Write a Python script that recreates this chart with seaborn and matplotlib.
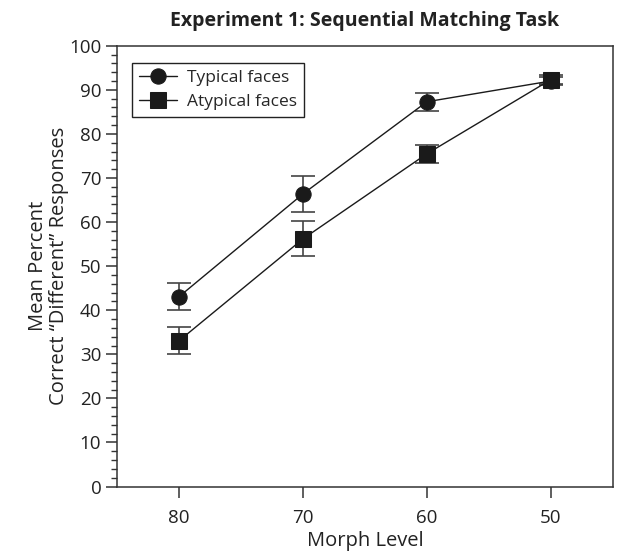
import pandas as pd
import seaborn as sns
import matplotlib.pyplot as plt
from matplotlib.ticker import MultipleLocator

morph_levels = ["80", "70", "60", "50"]
typical = [43.1, 66.4, 87.3, 92.0]
typical_err = [3.0, 4.0, 2.0, 1.0]
atypical = [33.1, 56.2, 75.5, 92.3]
atypical_err = [3.0, 4.0, 2.0, 1.0]
conditions = ["Typical faces", "Atypical faces"]

df = pd.DataFrame({
    "Morph": morph_levels * 2,
    "Pct": typical + atypical,
    "Condition": [conditions[0]] * 4 + [conditions[1]] * 4,
})

sns.set_style("ticks")
plt.rcParams["font.family"] = ["Open Sans", "DejaVu Sans"]

fig = plt.figure(figsize=(6.17, 5.58), dpi=100)
ax = fig.add_axes([0.190, 0.128, 0.803, 0.790])

# error bars first so the markers sit on top
for vals, errs in [(typical, typical_err), (atypical, atypical_err)]:
    ax.errorbar(range(len(morph_levels)), vals, yerr=errs, fmt="none",
                ecolor="#444444", elinewidth=1.2, capsize=8.5, capthick=1.2, zorder=1)

sns.pointplot(data=df, x="Morph", y="Pct", hue="Condition", order=morph_levels,
              hue_order=conditions, palette=["#1a1a1a", "#1a1a1a"], markers=["o", "s"],
              linestyles=["-", "-"], errorbar=None, markersize=11, linewidth=1.0,
              ax=ax, zorder=3)

ax.set_ylim(0, 100)
ax.set_xlim(-0.5, 3.5)
ax.yaxis.set_major_locator(MultipleLocator(10))
ax.yaxis.set_minor_locator(MultipleLocator(2))
ax.tick_params(axis="both", which="major", direction="out", length=8, width=1.1,
               labelsize=13.5, color="#333333", labelcolor="#222222")
ax.tick_params(axis="x", which="major", pad=8)
ax.tick_params(axis="y", which="minor", direction="out", length=4, width=1.0, color="#333333")
for s in ax.spines.values():
    s.set_linewidth(1.1)
    s.set_color("#333333")

ax.set_xlabel("Morph Level", fontsize=14.5, color="#222222", labelpad=3)
ax.set_ylabel("Mean Percent\nCorrect \u201cDifferent\u201d Responses", fontsize=14.5,
              color="#222222", labelpad=0, linespacing=1.05)
ax.set_title("Experiment 1: Sequential Matching Task", fontsize=14, fontweight="bold",
             color="#222222", pad=14)

leg = ax.legend(loc="upper left", bbox_to_anchor=(0.012, 0.98), fontsize=12.5,
                frameon=True, fancybox=False, edgecolor="#222222", framealpha=1,
                handlelength=2.2, borderpad=0.4, labelspacing=0.45, handletextpad=0.6)
leg.get_frame().set_linewidth(1.0)

fig.savefig("out.png", dpi=100)
